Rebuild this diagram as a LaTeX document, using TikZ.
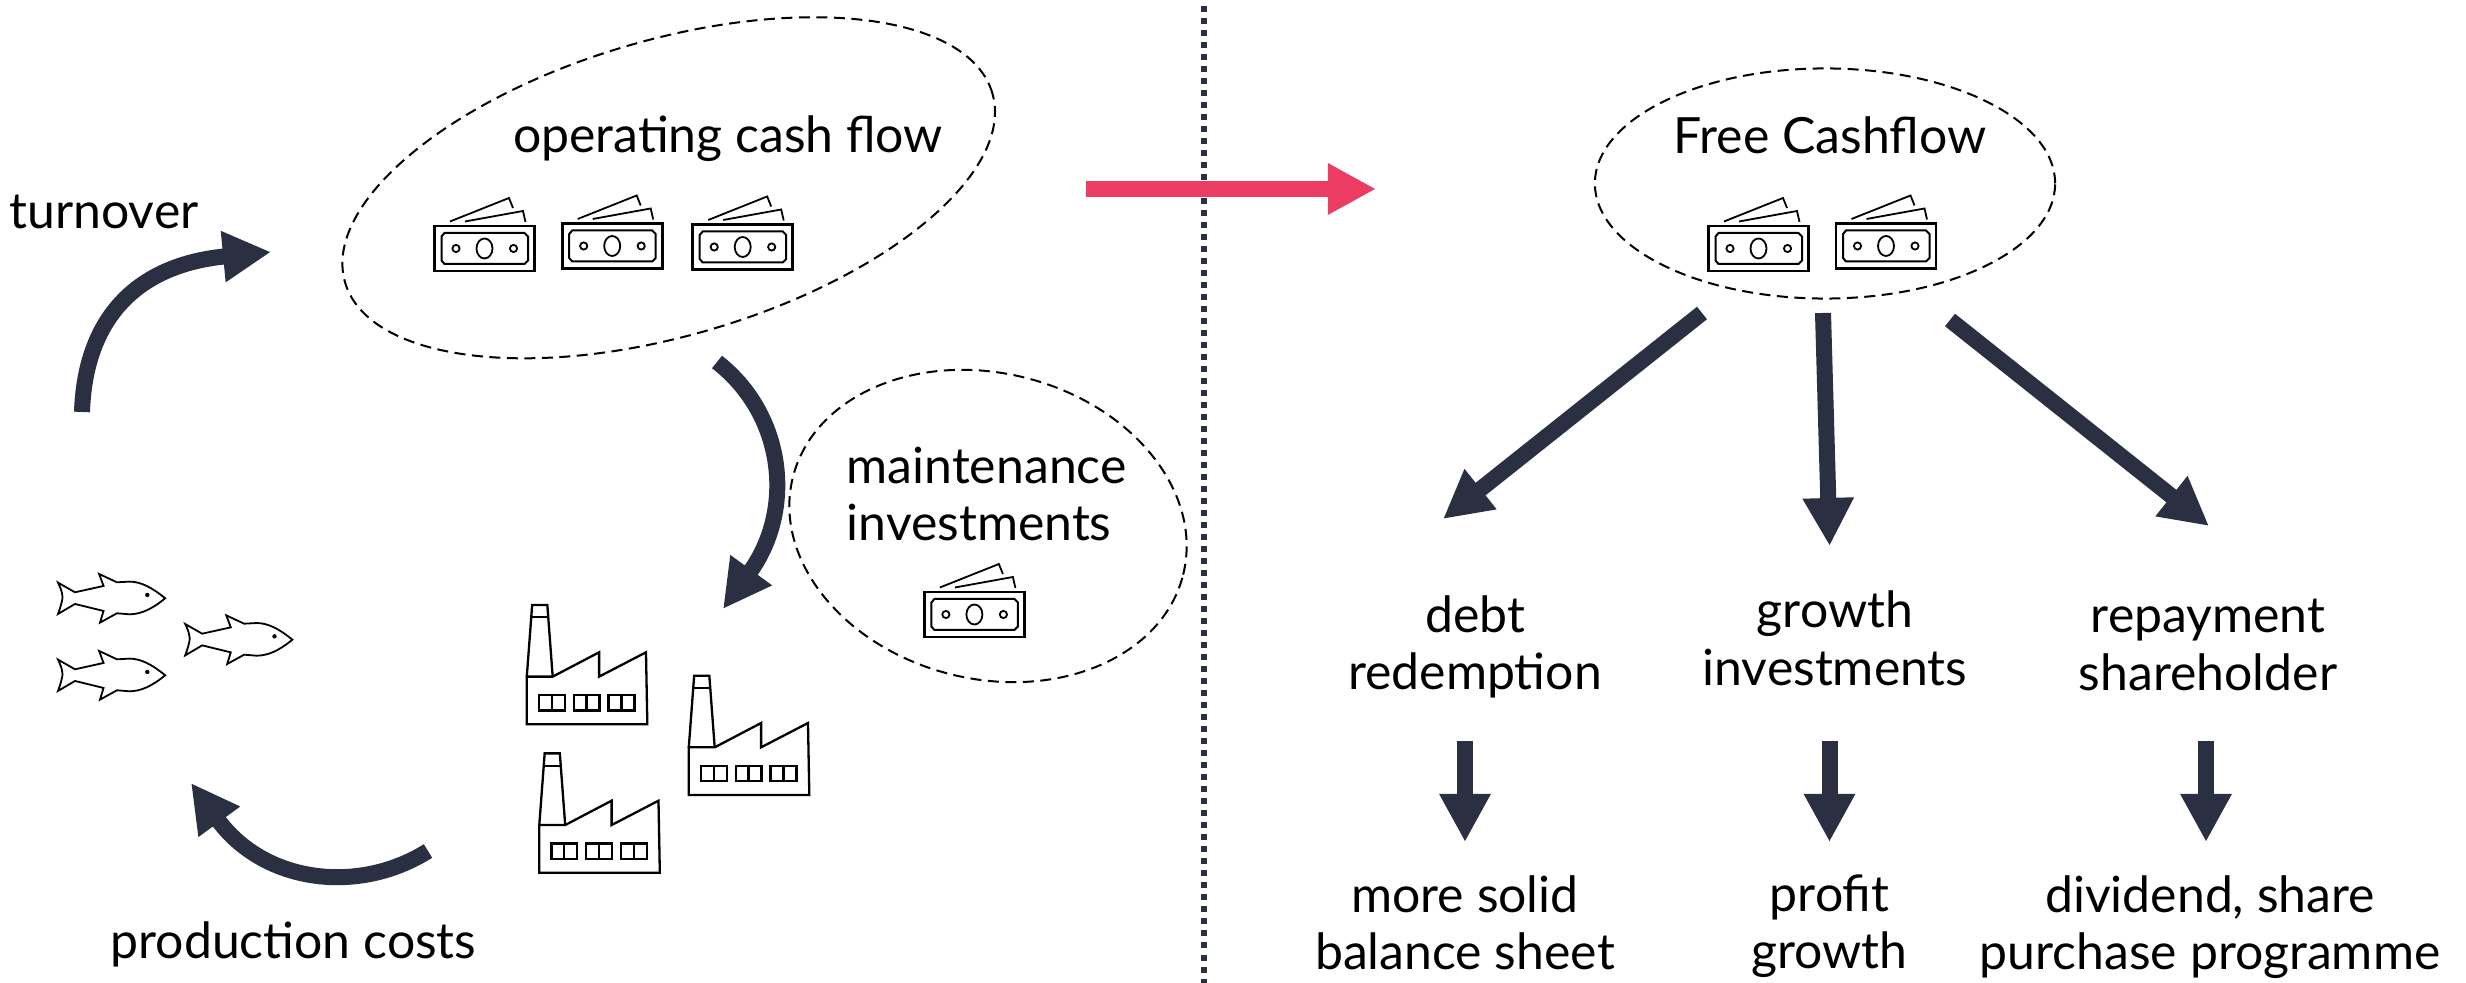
\documentclass[tikz,border=0pt]{standalone}
\usepackage{fontspec}
\setmainfont{Lato}
\usetikzlibrary{arrows.meta,shapes.geometric}
\definecolor{navy}{HTML}{2A3042}
\definecolor{pinkred}{HTML}{EB3C64}
\tikzset{
  lbl/.style={anchor=base,inner sep=0pt,font=\fontsize{14.2}{17}\selectfont,text=black},
  lblleft/.style={lbl,anchor=base west},
  cloud/.style={draw=black,ellipse,inner sep=0pt,line width=.02cm,dash pattern=on .11cm off .065cm},
  flow/.style={line width=.16cm,draw=navy,-{Triangle[length=.48cm,width=.48cm,fill=navy]}},
  pinkflow/.style={line width=.16cm,draw=pinkred,-{Triangle[length=.48cm,width=.48cm,fill=pinkred]}},
  icon/.style={draw=black,line width=.023cm,line join=miter},
  money/.pic={
    \draw[icon,line width=.026cm] (-50,-22.5) rectangle (50,22.5);
    \draw[icon,line width=.02cm] (-40,-15.5) -- (40,-15.5) -- (43.5,-12) -- (43.5,12) -- (40,15.5) -- (-40,15.5) -- (-43,12) -- (-43,-12) -- cycle;
    \draw[icon,line width=.018cm] (-28.5,0) circle [radius=3.6] (29,0) circle [radius=3.6] (0,0) ellipse [x radius=8,y radius=10];
    \draw[icon,line width=.018cm] (-34.5,-27) -- (24.5,-50.5) -- (28.5,-40.5);
    \draw[icon,line width=.018cm] (-19.5,-27) -- (38.5,-37.5) -- (41,-26.5);
  },
  fishicon/.pic={
    \begin{scope}[xscale=.4464,yscale=.3333,shift={(-250,-295)}]
    \draw[icon,line width=.018cm,fill=white] (370,295) .. controls (340,262) and (315,245) .. (290,245)
      -- (262,247) -- (222,222) -- (232,258) -- (168,277) -- (130,248)
      .. controls (140,275) and (140,290) .. (140,293) .. controls (140,300) and (135,325) .. (130,342)
      -- (168,312) -- (232,333) -- (224,368) -- (262,340) -- (290,343)
      .. controls (315,343) and (340,328) .. (370,295) -- cycle;
    \fill[black] (330,285) ellipse [x radius=5,y radius=6.5];
    \end{scope}
  },
  factoryicon/.pic={
    \begin{scope}[xscale=.4464,yscale=.3333,shift={(-1180,-673)}]
    \draw[icon] (1180,673) -- (1450,673) -- (1447,457) -- (1342,530) -- (1342,457) -- (1238,530) -- (1180,530) -- cycle;
    \draw[icon] (1180,530) -- (1192,315) -- (1226,315) -- (1238,530);
    \draw[icon] (1192,352) -- (1226,352);
    \draw[icon] (1207,585) rectangle (1265,632) (1236,585) -- (1236,632);
    \draw[icon] (1285,585) rectangle (1343,632) (1314,585) -- (1314,632);
    \draw[icon] (1363,585) rectangle (1421,632) (1392,585) -- (1392,632);
    \end{scope}
  }
}
\begin{document}
\begin{tikzpicture}[x=.01cm,y=-.01cm]
\useasboundingbox[fill=white] (0,0) rectangle (2466,983);

% divider
\coordinate (divtop) at (1204,6);
\coordinate (divbot) at (1204,983);
\draw[navy,line width=.06cm,dash pattern=on .06cm off .06cm] (divtop) -- (divbot);

% clouds
\node[cloud,minimum width=6.74cm,minimum height=2.954cm,rotate=16.3] (opcloud) at (668.7,187.8) {};
\node[cloud,minimum width=4.02cm,minimum height=3.056cm,rotate=-14] (maincloud) at (988,526) {};
\node[cloud,minimum width=4.6cm,minimum height=2.3cm] (freecloud) at (1825,183.5) {};

% labels
\node[lbl] (turnover) at (104,229) {turnover};
\node[lbl] (opcash) at (728,152.7) {operating cash flow};
\node[lbl] (prodcosts) at (293.5,959) {production costs};
\node[lblleft] (maint) at (846,483.3) {maintenance};
\node[lblleft] (invest) at (846,541) {investments};
\node[lbl] (freecash) at (1830,154) {Free Cashflow};
\node[lbl] (debt) at (1475,633) {debt};
\node[lbl] (redemption) at (1475,690) {redemption};
\node[lbl] (growthA) at (1835,628) {growth};
\node[lbl] (investB) at (1835,686) {investments};
\node[lbl] (repay) at (2208,633) {repayment};
\node[lbl] (share) at (2208,690.7) {shareholder};
\node[lbl] (solid) at (1465,912.7) {more solid};
\node[lbl] (balance) at (1465,970) {balance sheet};
\node[lbl] (profit) at (1829.5,912) {profit};
\node[lbl] (growthB) at (1829.5,969) {growth};
\node[lbl] (divid) at (2210,912.7) {dividend, share};
\node[lbl] (purchase) at (2210,970) {purchase programme};

% money
\pic (m1) at (484.5,248.5) {money};
\pic (m2) at (612.2,246) {money};
\pic (m3) at (742.7,247) {money};
\pic (m4) at (974.4,614.5) {money};
\pic (m5) at (1758.5,248.5) {money};
\pic (m6) at (1886,246) {money};

% fish
\pic (f1) at (111.6,598.3) {fishicon};
\pic (f2) at (238.8,639.7) {fishicon};
\pic (f3) at (111.6,675.3) {fishicon};

% factories
\pic (w1) at (526.8,724.3) {factoryicon};
\pic (w2) at (688.8,795) {factoryicon};
\pic (w3) at (539.3,872.7) {factoryicon};

% curved arrows
\coordinate (aS) at (82,412);  \coordinate (aE) at (271,252);
\coordinate (bS) at (717,362); \coordinate (bE) at (723,609);
\coordinate (cS) at (428,851); \coordinate (cE) at (191,783);
\draw[flow] (aS) .. controls (85,320) and (135,265) .. (aE);
\draw[flow] (bS) .. controls (785,415) and (795,510) .. (bE);
\draw[flow] (cS) .. controls (358,895) and (264,883) .. (cE);

% pink arrow
\coordinate (pS) at (1086,189); \coordinate (pE) at (1376,189);
\draw[pinkflow] (pS) -- (pE);

% free cash flow arrows
\coordinate (dS) at (1702,313); \coordinate (dE) at (1443,519);
\coordinate (eS) at (1823,313); \coordinate (eE) at (1829.6,546);
\coordinate (gS) at (1950,320); \coordinate (gE) at (2209,526);
\draw[flow] (dS) -- (dE);
\draw[flow] (eS) -- (eE);
\draw[flow] (gS) -- (gE);

% lower arrows
\coordinate (hS) at (1465,741);   \coordinate (hE) at (1465,842);
\coordinate (iS) at (1829.5,741); \coordinate (iE) at (1829.5,842);
\coordinate (jS) at (2206,741);   \coordinate (jE) at (2206,842);
\draw[flow] (hS) -- (hE);
\draw[flow] (iS) -- (iE);
\draw[flow] (jS) -- (jE);
\end{tikzpicture}
\end{document}
